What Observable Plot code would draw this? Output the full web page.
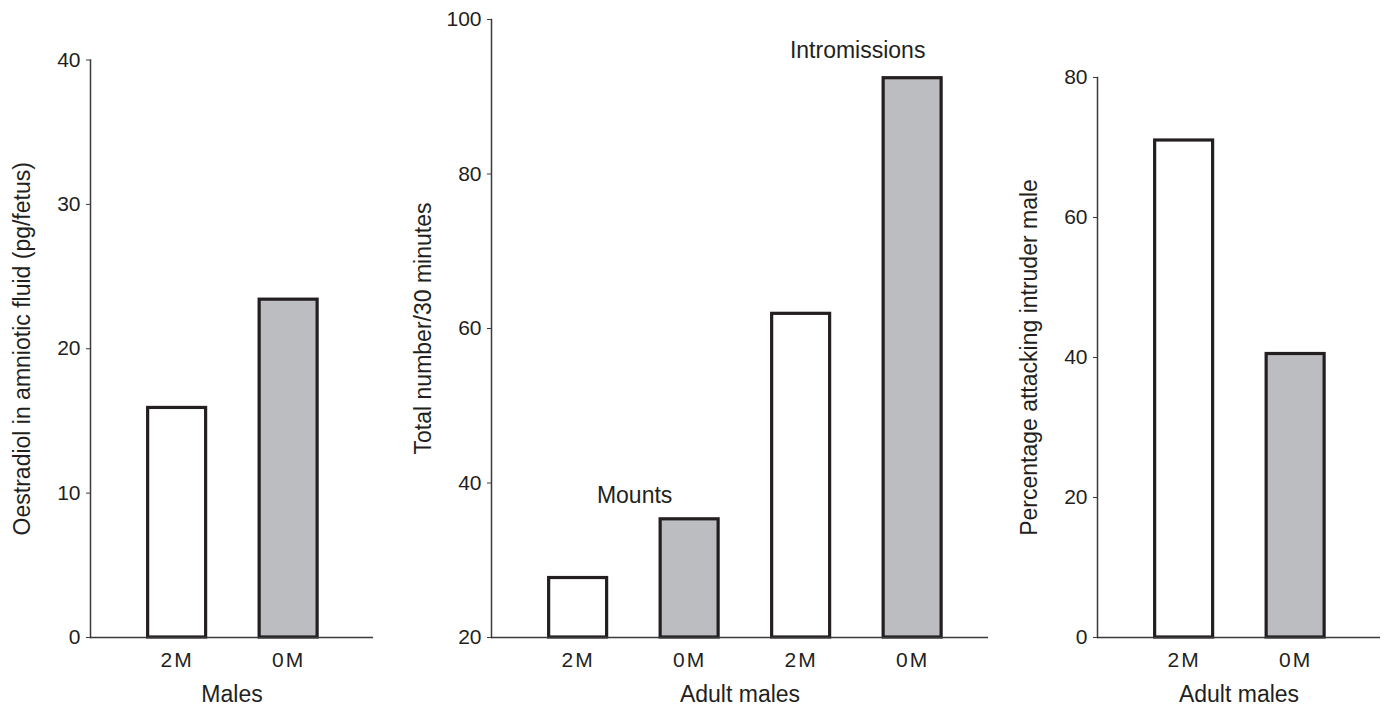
<!DOCTYPE html>
<html>
<head>
<meta charset="utf-8">
<script src="https://cdn.jsdelivr.net/npm/d3@7"></script>
<script src="https://cdn.jsdelivr.net/npm/@observablehq/plot@0.6"></script>
<style>
  html, body { margin: 0; padding: 0; background: #fff; }
  #wrap { position: relative; width: 1385px; height: 708px; overflow: hidden; }
  #wrap svg { position: absolute; top: 0; }
  .xt g[aria-label="x-axis tick label"] text { letter-spacing: 2px; }
</style>
</head>
<body>
<div id="wrap"></div>
<script>
// ---- Data ----
const p1Groups = ["2M", "0M"];
const p1Values = [15.9, 23.4];
const p1YTicks = [0, 10, 20, 30, 40];

const p2Behaviours = ["Mounts", "Mounts", "Intromissions", "Intromissions"];
const p2Groups = ["2M", "0M", "2M", "0M"];
const p2Values = [27.7, 35.3, 61.9, 92.4];
const p2YTicks = [20, 40, 60, 80, 100];
const p2Annotations = ["Mounts", "Intromissions"];
const p2AnnotationY = [38.4, 96.0];

const p3Groups = ["2M", "0M"];
const p3Values = [71.0, 40.5];
const p3YTicks = [0, 20, 40, 60, 80];

const fillFor = {"2M": "#ffffff", "0M": "#bcbdc0"};
const ink = "#231f20";
const font = "'Liberation Sans', Arial, Helvetica, sans-serif";

const step = 111.5, pInner = 0.48, pOuter = 0.517;

function panel({left, width, marginLeft, marginRight, marginTop, yDomain, yTicks, yLabel, xLabel, keys, labels, values, extra = []}) {
  const data = keys.map((k, i) => ({key: k, group: labels[i], value: values[i]}));
  const n = keys.length;
  const plot = Plot.plot({
    width, height: 708,
    marginLeft, marginRight, marginTop, marginBottom: 71,
    className: "xt",
    style: {fontFamily: font, fontSize: "21px", color: ink, background: "transparent", overflow: "visible"},
    x: {domain: keys, type: "band", range: [marginLeft, marginLeft + step * (n - pInner + 2 * pOuter)],
        paddingInner: pInner, paddingOuter: pOuter, align: 0.5, round: false},
    y: {domain: yDomain},
    marks: [
      Plot.barY(data, {x: "key", y1: yDomain[0], y2: "value", fill: d => fillFor[d.group], stroke: ink, strokeWidth: 3.2}),
      Plot.ruleY([yDomain[0]], {stroke: "#3a3a3a", strokeWidth: 1.5}),
      Plot.frame({anchor: "left", stroke: "#3a3a3a", strokeWidth: 1.5}),
      Plot.axisY({ticks: yTicks, tickSize: 4, tickPadding: 6, stroke: "#3a3a3a", label: yLabel,
                  labelAnchor: "center", labelArrow: "none", labelOffset: 77, fontSize: 21}),
      Plot.axisX({tickSize: 0, tickPadding: 15, tickFormat: k => labels[keys.indexOf(k)], label: xLabel,
                  labelAnchor: "center", labelArrow: "none", labelOffset: 64, fontSize: 21}),
      ...extra
    ]
  });
  plot.style.left = left + "px";
  plot.querySelectorAll('g[aria-label="y-axis label"] text, g[aria-label="x-axis label"] text')
      .forEach(t => t.setAttribute("font-size", "23"));
  return plot;
}

const wrap = document.getElementById("wrap");

wrap.appendChild(panel({
  left: 0, width: 380, marginLeft: 90, marginRight: 7, marginTop: 59.5,
  yDomain: [0, 40], yTicks: p1YTicks,
  yLabel: "Oestradiol in amniotic fluid (pg/fetus)", xLabel: "Males",
  keys: p1Groups, labels: p1Groups, values: p1Values
}));

const p2Keys = p2Groups.map((g, i) => p2Behaviours[i] + "|" + g);
const annData = p2Annotations.map((a, i) => ({label: a, key: p2Keys[p2Behaviours.indexOf(a)], y: p2AnnotationY[i]}));
wrap.appendChild(panel({
  left: 390, width: 600, marginLeft: 101, marginRight: 2, marginTop: 19,
  yDomain: [20, 100], yTicks: p2YTicks,
  yLabel: "Total number/30 minutes", xLabel: "Adult males",
  keys: p2Keys, labels: p2Groups, values: p2Values,
  extra: [Plot.text(annData, {x: "key", y: "y", text: "label", dx: 56.5, fontSize: 23, fill: ink, textAnchor: "middle"})]
}));

wrap.appendChild(panel({
  left: 990, width: 395, marginLeft: 107, marginRight: 5, marginTop: 77,
  yDomain: [0, 80], yTicks: p3YTicks,
  yLabel: "Percentage attacking intruder male", xLabel: "Adult males",
  keys: p3Groups, labels: p3Groups, values: p3Values
}));
</script>
</body>
</html>
